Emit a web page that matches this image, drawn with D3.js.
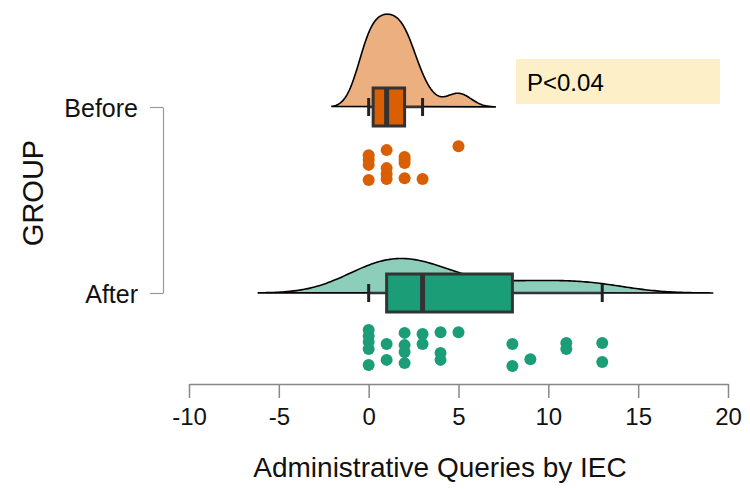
<!DOCTYPE html>
<html>
<head>
<meta charset="utf-8">
<script src="https://cdn.jsdelivr.net/npm/d3@7"></script>
<style>
  body { margin: 0; background: #fff; }
  text { font-family: "Liberation Sans", Arial, sans-serif; }
</style>
</head>
<body>
<svg id="chart" width="750" height="489"></svg>
<script>
// data
const groups = ["Before", "After"];
const beforeValues = [0, 0, 0, 0, 1, 1, 1, 1, 2, 2, 2, 2, 3, 5];
const beforeJitter = [0.31, 0.44, 0.58, 1.0, 0.17, 0.67, 0.83, 0.97, 0.36, 0.44, 0.53, 0.95, 0.97, 0.06];
const afterValues = [0, 0, 0, 0, 0, 1, 1, 2, 2, 2, 2, 3, 3, 4, 4, 4, 5, 8, 8, 9, 11, 11, 13, 13];
const afterJitter = [0, 0.17, 0.33, 0.53, 0.97, 0.39, 0.83, 0.08, 0.42, 0.61, 0.92, 0.11, 0.39, 0.06, 0.64, 0.83, 0.06, 0.39, 1.0, 0.81, 0.36, 0.53, 0.36, 0.89];
const xTicks = [-10, -5, 0, 5, 10, 15, 20];
const pLabel = "P<0.04";

const colors = {Before: "#d95f02", After: "#1b9e77"};

const svg = d3.select("#chart");

// scales
const x = d3.scaleLinear().domain([-10, 20]).range([189, 728]);
const y = d3.scalePoint().domain(groups).range([107, 293]);
const dens = d3.scaleLinear().domain([0, 0.3]).range([0, 99]);
const jit = d3.scaleLinear().domain([0, 1]).range([37, 73]);

// R style bandwidth (bw.nrd0) and gaussian kde
function bwNrd0(v) {
  const s = d3.deviation(v);
  const sorted = v.slice().sort(d3.ascending);
  const iqr = (d3.quantile(sorted, 0.75) - d3.quantile(sorted, 0.25)) / 1.34;
  return 0.9 * Math.min(s, iqr) * Math.pow(v.length, -0.2);
}
function kde(v) {
  const bw = bwNrd0(v);
  const lo = d3.min(v) - 3 * bw, hi = d3.max(v) + 3 * bw;
  const pts = d3.range(0, 201).map(i => lo + (hi - lo) * i / 200);
  return pts.map(p => [p, d3.mean(v, d => Math.exp(-0.5 * ((p - d) / bw) ** 2)) / (bw * Math.sqrt(2 * Math.PI))]);
}

const series = [
  {name: "Before", values: beforeValues, jitter: beforeJitter},
  {name: "After", values: afterValues, jitter: afterJitter}
];

// y axis
svg.append("g")
    .attr("transform", "translate(163,0)")
    .call(d3.axisLeft(y).tickSize(13).tickSizeOuter(0).tickPadding(12))
    .call(g => g.selectAll("path, line").attr("stroke", "#999").attr("stroke-width", 1.2))
    .call(g => g.selectAll("text").attr("font-size", 25).attr("fill", "#111").attr("dy", "0.36em"));

// x axis
svg.append("g")
    .attr("transform", "translate(0,384)")
    .call(d3.axisBottom(x).tickValues(xTicks).tickSize(14).tickSizeOuter(0).tickPadding(10)
        .tickFormat(d => String(d)))
    .call(g => g.selectAll("path, line").attr("stroke", "#888").attr("stroke-width", 1.5))
    .call(g => g.selectAll("text").attr("font-size", 24).attr("fill", "#111"));

svg.append("text")
    .attr("x", 440).attr("y", 477)
    .attr("text-anchor", "middle")
    .attr("font-size", 28)
    .attr("fill", "#111")
    .text("Administrative Queries by IEC");

svg.append("text")
    .attr("transform", "translate(43,193) rotate(-90)")
    .attr("text-anchor", "middle")
    .attr("font-size", 29)
    .attr("fill", "#111")
    .text("GROUP");

series.forEach(function(s) {
  const base = y(s.name);
  const col = colors[s.name];
  const curve = kde(s.values);

  // half violin (cloud)
  svg.append("path")
      .attr("d", d3.line().x(d => x(d[0])).y(d => base - dens(d[1]))(curve) + "Z")
      .attr("fill", col)
      .attr("fill-opacity", 0.5)
      .attr("stroke", "#000")
      .attr("stroke-width", 1.6);

  // box plot
  const sorted = s.values.slice().sort(d3.ascending);
  const q1 = d3.quantile(sorted, 0.25), med = d3.quantile(sorted, 0.5), q3 = d3.quantile(sorted, 0.75);
  const iqr = q3 - q1;
  const wLo = d3.min(sorted.filter(d => d >= q1 - 1.5 * iqr));
  const wHi = d3.max(sorted.filter(d => d <= q3 + 1.5 * iqr));
  const g = svg.append("g");
  g.append("line")
      .attr("x1", x(wLo)).attr("x2", x(wHi)).attr("y1", base).attr("y2", base)
      .attr("stroke", "#333").attr("stroke-width", 2.5);
  [wLo, wHi].forEach(w => g.append("line")
      .attr("x1", x(w)).attr("x2", x(w)).attr("y1", base - 9).attr("y2", base + 9)
      .attr("stroke", "#222").attr("stroke-width", 3));
  g.append("rect")
      .attr("x", x(q1)).attr("y", base - 19)
      .attr("width", x(q3) - x(q1)).attr("height", 38)
      .attr("fill", col).attr("stroke", "#333").attr("stroke-width", 3);
  g.append("line")
      .attr("x1", x(med)).attr("x2", x(med)).attr("y1", base - 19).attr("y2", base + 19)
      .attr("stroke", "#333").attr("stroke-width", 5);

  // rain
  svg.append("g").selectAll("circle")
      .data(s.values.map((v, i) => ({v: v, j: s.jitter[i]})))
      .join("circle")
      .attr("cx", d => x(d.v))
      .attr("cy", d => base + jit(d.j))
      .attr("r", 6)
      .attr("fill", col);
});

// p-value annotation
svg.append("rect")
    .attr("x", 516).attr("y", 59).attr("width", 204).attr("height", 45)
    .attr("fill", "#fdf0c9");
svg.append("text")
    .attr("x", 527).attr("y", 91)
    .attr("font-family", "'Open Sans', sans-serif")
    .attr("font-size", 24)
    .attr("fill", "#000")
    .text(pLabel);
</script>
</body>
</html>
